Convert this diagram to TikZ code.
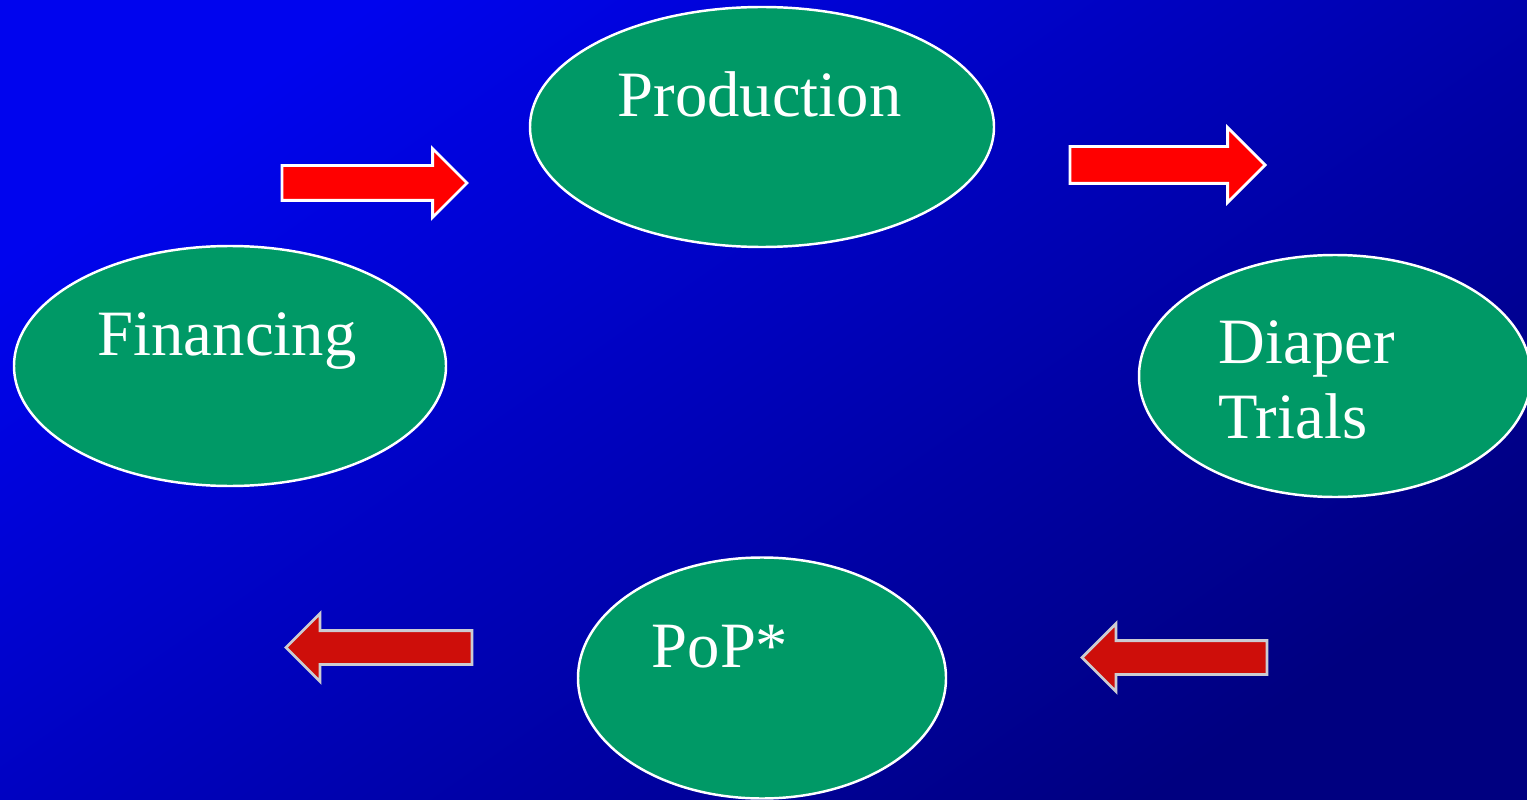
\documentclass[tikz,border=0pt]{standalone}
\usepackage{fontspec}
\setmainfont{Liberation Serif}
\usetikzlibrary{shapes.geometric, shapes.arrows}

\definecolor{fondclair}{RGB}{0,4,238}
\definecolor{fondmilieu}{RGB}{0,0,190}
\definecolor{fondsombre}{RGB}{0,0,128}
\definecolor{vertbulle}{RGB}{0,153,102}
\definecolor{rougevif}{RGB}{255,0,0}
\definecolor{rougesombre}{RGB}{206,14,10}
\definecolor{bordgris}{RGB}{204,204,210}

\begin{document}
\begin{tikzpicture}[
  x=1cm, y=1cm,
  bulle/.style={
    ellipse, draw=white, line width=0.7pt, fill=vertbulle,
    inner sep=0pt, outer sep=0pt
  },
  libelle/.style={
    text=white, font=\fontsize{18.4}{21}\selectfont,
    inner sep=0pt, anchor=base west
  },
  fleche/.style={
    single arrow, single arrow tip angle=90, line width=0.8pt,
    inner xsep=0pt, outer sep=0pt, anchor=tail
  },
  avant/.style={fleche, fill=rougevif, draw=white},
  retour/.style={fleche, fill=rougesombre, draw=bordgris, shape border rotate=180}
]

% ----- fond -----
\shade[top color=fondclair, middle color=fondmilieu, bottom color=fondsombre, shading angle=35]
  (0,0) rectangle (15.27,7.99);
\useasboundingbox (0,0) rectangle (15.27,7.99);

% ----- bulles -----
\node[bulle, minimum width=4.64cm, minimum height=2.40cm] (prod)  at (7.62, 6.72) {};
\node[bulle, minimum width=4.32cm, minimum height=2.40cm] (fin)   at (2.30, 4.33) {};
\node[bulle, minimum width=3.92cm, minimum height=2.42cm] (essai) at (13.35, 4.23) {};
\node[bulle, minimum width=3.68cm, minimum height=2.41cm] (pop)   at (7.62, 1.21) {};

\node[libelle] (prodtxt)   at (6.17, 6.82) {Production};
\node[libelle] (fintxt)    at (0.97, 4.44) {Financing};
\node[libelle] (essaitxtA) at (12.18, 4.36) {Diaper};
\node[libelle] (essaitxtB) at (12.18, 3.61) {Trials};
\node[libelle] (poptxt)    at (6.51, 1.32) {PoP*};

% ----- fleches -----
\node[avant, minimum height=1.85cm, inner ysep=0.16cm, single arrow head extend=0.17cm]
  (versprod) at (2.82, 6.16) {};
\node[avant, minimum height=1.95cm, inner ysep=0.17cm, single arrow head extend=0.19cm]
  (versessai) at (10.70, 6.34) {};
\node[retour, minimum height=1.86cm, inner ysep=0.155cm, single arrow head extend=0.17cm]
  (versfin) at (4.72, 1.515) {};
\node[retour, minimum height=1.85cm, inner ysep=0.155cm, single arrow head extend=0.17cm]
  (verspop) at (12.67, 1.415) {};

\end{tikzpicture}
\end{document}
